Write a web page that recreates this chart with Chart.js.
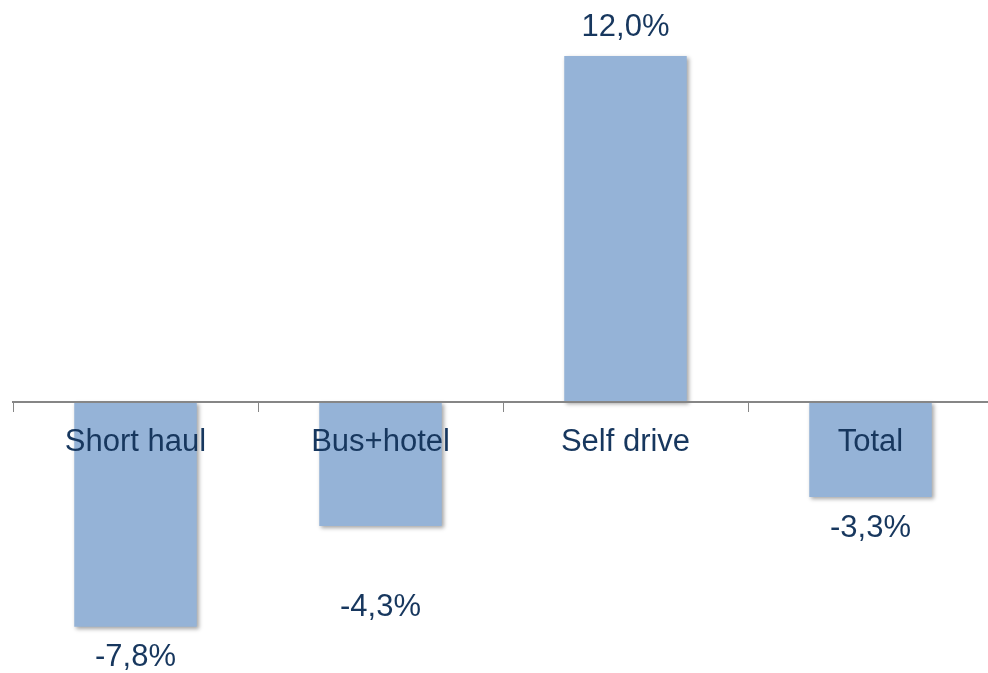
<!DOCTYPE html>
<html>
<head>
<meta charset="utf-8">
<script src="https://cdn.jsdelivr.net/npm/chart.js@4/dist/chart.umd.min.js"></script>
<style>
  html, body { margin: 0; padding: 0; background: #fff; overflow: hidden; }
  #wrap { position: relative; width: 993px; height: 673px; }
</style>
</head>
<body>
<div id="wrap"><canvas id="myChart"></canvas></div>
<script>
'use strict';

const categories = ['Short haul', 'Bus+hotel', 'Self drive', 'Total'];
const changes = [-7.8, -4.3, 12.0, -3.3];
// distance from bar end to the value label centre, px
const labelGaps = [31, 82, 28, 31];

const barColor = '#95B3D7';
const textColor = '#17375E';
const fontFamily = '"Liberation Sans", Arial, sans-serif';

const fmt = v => v.toFixed(1).replace('.', ',') + '%';

const shadowPlugin = {
  id: 'barShadow',
  beforeDatasetsDraw(chart) {
    const c = chart.ctx;
    c.save();
    c.shadowColor = 'rgba(0, 0, 0, 0.35)';
    c.shadowBlur = 4;
    c.shadowOffsetX = 2;
    c.shadowOffsetY = 2;
  },
  afterDatasetsDraw(chart) {
    chart.ctx.restore();
  }
};

const valueLabels = {
  id: 'valueLabels',
  afterDraw(chart) {
    const c = chart.ctx;
    const meta = chart.getDatasetMeta(0);
    c.save();
    c.font = '31px ' + fontFamily;
    c.fillStyle = textColor;
    c.textAlign = 'center';
    c.textBaseline = 'middle';
    meta.data.forEach((bar, i) => {
      const v = changes[i];
      const y = v >= 0 ? bar.y - labelGaps[i] : bar.y + labelGaps[i];
      c.fillText(fmt(v), bar.x, y);
    });
    c.restore();
  }
};

const ctx = document.getElementById('myChart').getContext('2d');

const myChart = new Chart(ctx, {
  type: 'bar',
  data: {
    labels: categories,
    datasets: [{
      data: changes,
      backgroundColor: barColor,
      borderWidth: 0,
      categoryPercentage: 1,
      barPercentage: 0.5
    }]
  },
  options: {
    responsive: true,
    maintainAspectRatio: false,
    animation: false,
    layout: { padding: { left: 13, right: 0, top: 0, bottom: 0 } },
    plugins: {
      legend: { display: false },
      tooltip: { enabled: false }
    },
    scales: {
      x: {
        position: { y: 0 },
        offset: true,
        grid: {
          offset: true,
          drawOnChartArea: false,
          drawTicks: true,
          tickLength: 9,
          color: '#868686',
          z: 1
        },
        border: { display: true, color: '#868686', width: 2, z: 1 },
        ticks: {
          color: textColor,
          font: { size: 31, family: fontFamily },
          padding: 13,
          maxRotation: 0,
          autoSkip: false,
          z: 1
        }
      },
      y: {
        display: false,
        min: -9.4,
        max: 13.94
      }
    }
  },
  plugins: [shadowPlugin, valueLabels]
});
</script>
</body>
</html>
